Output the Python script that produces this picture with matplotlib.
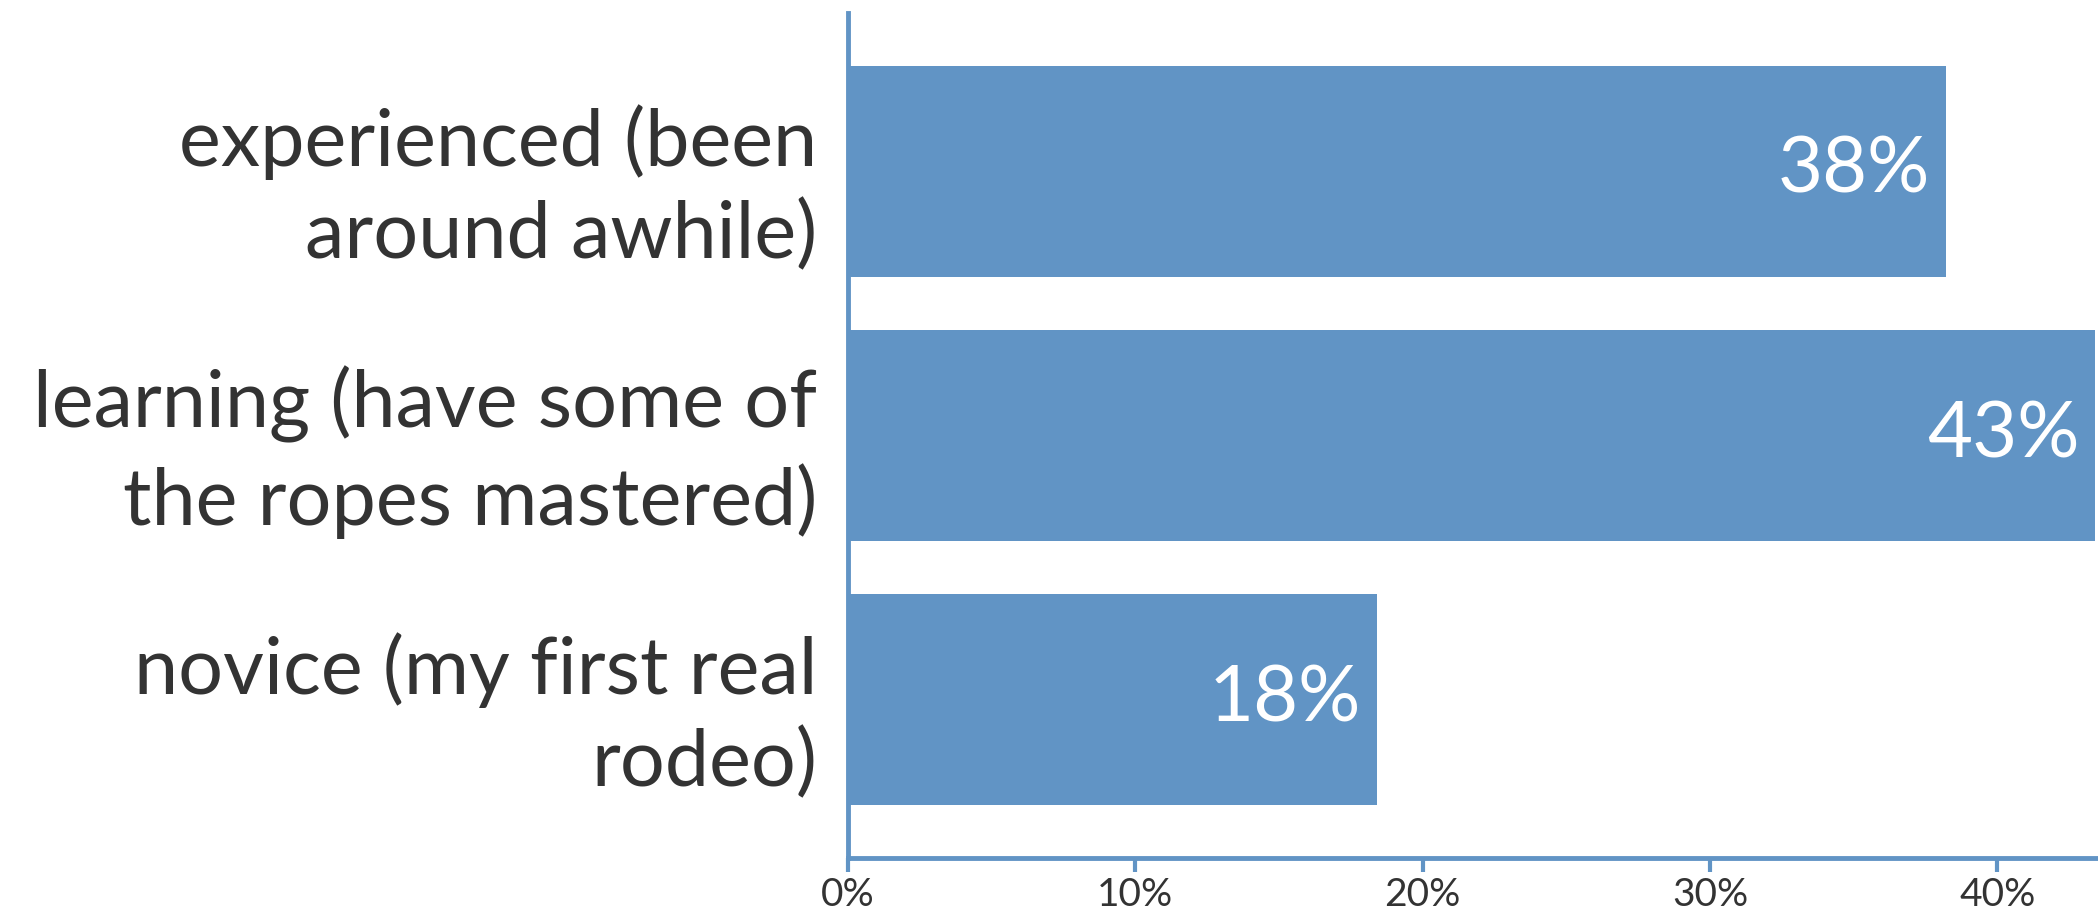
import matplotlib
matplotlib.use("Agg")
import matplotlib.pyplot as plt
from matplotlib.ticker import PercentFormatter

categories = ["experienced (been\naround awhile)",
              "learning (have some of\nthe ropes mastered)",
              "novice (my first real\nrodeo)"]
values = [0.382, 0.434, 0.184]
labels = ["38%", "43%", "18%"]
xticks = [0, 0.1, 0.2, 0.3, 0.4]

plt.rcParams['font.family'] = ['Lato', 'DejaVu Sans']
bar_color = "#6194C5"
text_color = "#333333"

fig = plt.figure(figsize=(20.98, 9.23), dpi=100)
ax = fig.add_axes([848/2098, 1 - 858/923, (2098-848)/2098, (858-13)/923])

y = list(range(len(categories)))
ax.barh(y, values, height=0.8, color=bar_color)
for yi, v, lab in zip(y, values, labels):
    ax.text(v - 0.0055, yi, lab, ha='right', va='center', color='white', fontsize=56)

ax.set_ylim(2.6, -0.6)
ax.set_xlim(0, 0.435)
ax.set_yticks(y)
ax.set_yticklabels(categories, fontsize=57, color=text_color, linespacing=1.32)
ax.set_xticks(xticks)
ax.xaxis.set_major_formatter(PercentFormatter(1.0, decimals=0))
ax.tick_params(axis='x', labelsize=28, colors=bar_color, labelcolor=text_color,
               length=10, width=3, pad=4)
ax.tick_params(axis='y', length=0, pad=22)
for s in ['top', 'right']:
    ax.spines[s].set_visible(False)
for s in ['left', 'bottom']:
    ax.spines[s].set_color(bar_color)
    ax.spines[s].set_linewidth(3.5)

fig.savefig("out.png", dpi=100, facecolor='white')
